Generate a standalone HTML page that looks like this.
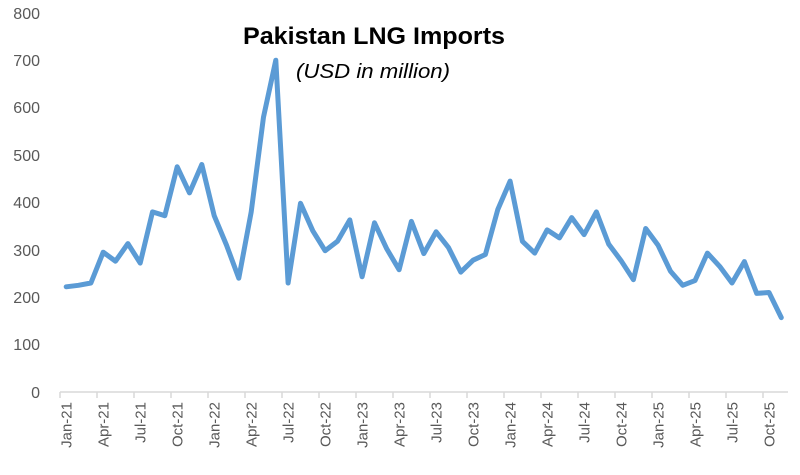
<!DOCTYPE html>
<html><head><meta charset="utf-8"><style>
html,body{margin:0;padding:0;background:#fff;}
svg{display:block;font-family:"Liberation Sans",sans-serif;}
</style></head><body>
<svg width="800" height="475" viewBox="0 0 800 475" xmlns="http://www.w3.org/2000/svg">
<rect width="800" height="475" fill="#fff"/>
<g fill="#595959" font-size="16" text-anchor="end">
<text x="40" y="19">800</text>
<text x="40" y="66">700</text>
<text x="40" y="113">600</text>
<text x="40" y="161">500</text>
<text x="40" y="208">400</text>
<text x="40" y="256">300</text>
<text x="40" y="303">200</text>
<text x="40" y="350">100</text>
<text x="40" y="398">0</text>
</g>
<line x1="60" y1="392" x2="788" y2="392" stroke="#d9d9d9" stroke-width="1.5"/>
<g stroke="#d9d9d9" stroke-width="1.5">
<line x1="60" y1="392" x2="60" y2="398"/><line x1="97" y1="392" x2="97" y2="398"/><line x1="134" y1="392" x2="134" y2="398"/><line x1="171" y1="392" x2="171" y2="398"/><line x1="208" y1="392" x2="208" y2="398"/><line x1="245" y1="392" x2="245" y2="398"/><line x1="282" y1="392" x2="282" y2="398"/><line x1="319" y1="392" x2="319" y2="398"/><line x1="356" y1="392" x2="356" y2="398"/><line x1="393" y1="392" x2="393" y2="398"/><line x1="430" y1="392" x2="430" y2="398"/><line x1="467" y1="392" x2="467" y2="398"/><line x1="504" y1="392" x2="504" y2="398"/><line x1="541" y1="392" x2="541" y2="398"/><line x1="578" y1="392" x2="578" y2="398"/><line x1="615" y1="392" x2="615" y2="398"/><line x1="652" y1="392" x2="652" y2="398"/><line x1="689" y1="392" x2="689" y2="398"/><line x1="726" y1="392" x2="726" y2="398"/><line x1="763" y1="392" x2="763" y2="398"/>
</g>
<g fill="#595959" font-size="15" text-anchor="end">
<text transform="translate(71.5,402) rotate(-90)">Jan-21</text>
<text transform="translate(108.5,402) rotate(-90)">Apr-21</text>
<text transform="translate(145.5,402) rotate(-90)">Jul-21</text>
<text transform="translate(182.5,402) rotate(-90)">Oct-21</text>
<text transform="translate(219.5,402) rotate(-90)">Jan-22</text>
<text transform="translate(256.5,402) rotate(-90)">Apr-22</text>
<text transform="translate(293.5,402) rotate(-90)">Jul-22</text>
<text transform="translate(330.5,402) rotate(-90)">Oct-22</text>
<text transform="translate(367.5,402) rotate(-90)">Jan-23</text>
<text transform="translate(404.5,402) rotate(-90)">Apr-23</text>
<text transform="translate(441.5,402) rotate(-90)">Jul-23</text>
<text transform="translate(478.5,402) rotate(-90)">Oct-23</text>
<text transform="translate(515.5,402) rotate(-90)">Jan-24</text>
<text transform="translate(552.5,402) rotate(-90)">Apr-24</text>
<text transform="translate(589.5,402) rotate(-90)">Jul-24</text>
<text transform="translate(626.5,402) rotate(-90)">Oct-24</text>
<text transform="translate(663.5,402) rotate(-90)">Jan-25</text>
<text transform="translate(700.5,402) rotate(-90)">Apr-25</text>
<text transform="translate(737.5,402) rotate(-90)">Jul-25</text>
<text transform="translate(774.5,402) rotate(-90)">Oct-25</text>
</g>
<polyline fill="none" stroke="#5b9bd5" stroke-width="5" stroke-linejoin="round" stroke-linecap="round" points="66.2,286.8 78.5,285.3 90.9,283.0 103.2,252.2 115.5,261.2 127.9,243.6 140.2,263.1 152.5,211.9 164.8,215.7 177.2,166.8 189.5,192.9 201.8,164.5 214.2,215.7 226.5,245.1 238.8,278.2 251.2,211.9 263.5,117.1 275.8,60.2 288.1,283.0 300.5,203.3 312.8,230.8 325.1,250.7 337.5,241.3 349.8,219.9 362.1,276.8 374.5,222.8 386.8,248.9 399.1,269.7 411.4,221.4 423.8,253.6 436.1,231.8 448.4,247.4 460.8,272.1 473.1,260.2 485.4,254.5 497.8,209.5 510.1,181.1 522.4,241.3 534.7,253.1 547.1,229.9 559.4,237.9 571.7,217.6 584.1,234.6 596.4,211.9 608.7,244.1 621.1,260.7 633.4,279.7 645.7,228.5 658.0,245.1 670.4,271.1 682.7,285.3 695.0,280.6 707.4,253.1 719.7,266.4 732.0,283.0 744.4,261.6 756.7,293.4 769.0,292.5 781.3,317.6"/>
<text x="374" y="44" text-anchor="middle" font-size="24" font-weight="bold" fill="#000" textLength="262" lengthAdjust="spacingAndGlyphs">Pakistan LNG Imports</text>
<text x="373" y="78" text-anchor="middle" font-size="20" font-style="italic" fill="#000" textLength="154" lengthAdjust="spacingAndGlyphs">(USD in million)</text>
</svg>
</body></html>
